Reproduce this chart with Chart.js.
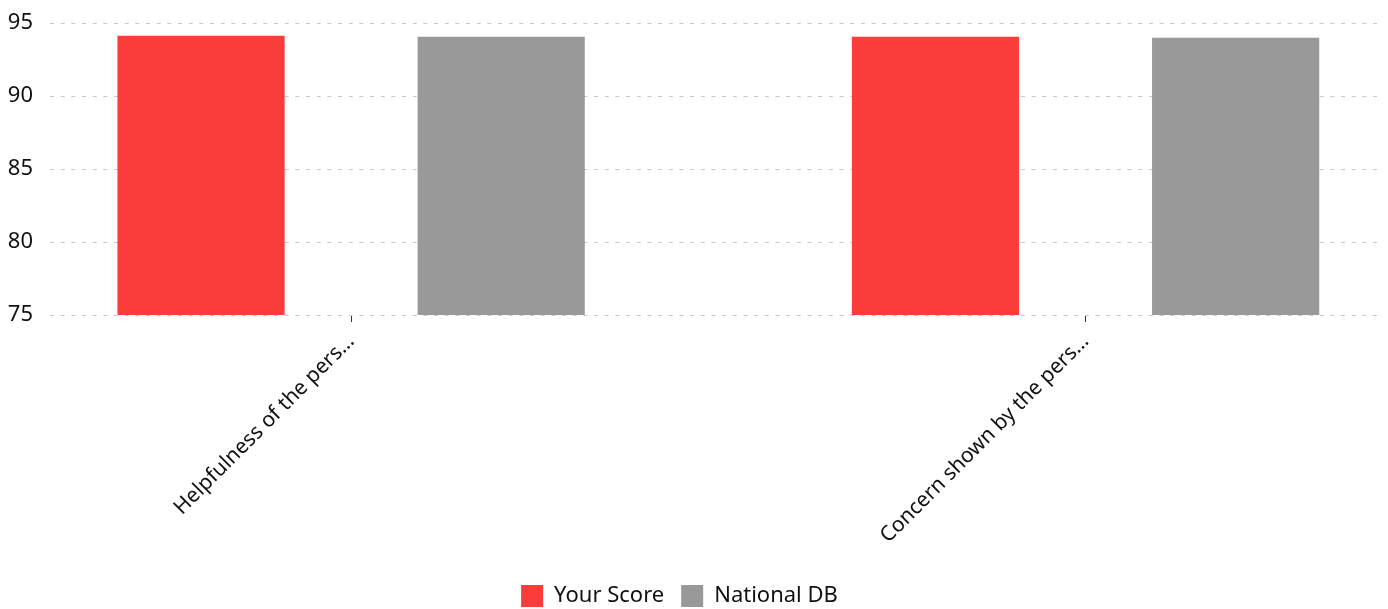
<!DOCTYPE html>
<html>
<head>
<meta charset="utf-8">
<script src="https://cdn.jsdelivr.net/npm/chart.js@4/dist/chart.umd.min.js"></script>
<style>
  html, body { margin: 0; padding: 0; background: #fff; }
  #wrap { width: 1388px; height: 609px; }
</style>
</head>
<body>
<div id="wrap"><canvas id="chart"></canvas></div>
<script>
// カテゴリとデータ
const categories = ['Helpfulness of the pers…', 'Concern shown by the pers…'];
const yourScore = [94.13, 94.06];
const nationalDb = [94.06, 93.99];
const yTicks = [75, 80, 85, 90, 95];

const colors = {
  red: '#fa3c3b',
  gray: '#999999',
  grid: '#c8c8c8',
  text: '#111111'
};

const fontFamily = "'Noto Sans', 'Open Sans', sans-serif";

// x は線形軸 (カテゴリ位置 0, 1)
function toPoints(values) {
  return values.map((v, i) => ({ x: i, y: v }));
}

// 凡例を少し左へ寄せる
const legendShift = {
  id: 'legendShift',
  afterLayout(chart) {
    chart.legend.left -= 16;
    chart.legend.right -= 16;
  }
};

new Chart(document.getElementById('chart'), {
  type: 'bar',
  data: {
    datasets: [
      { label: 'Your Score', data: toPoints(yourScore), backgroundColor: colors.red },
      { label: 'National DB', data: toPoints(nationalDb), backgroundColor: colors.gray }
    ]
  },
  plugins: [legendShift],
  options: {
    responsive: true,
    maintainAspectRatio: false,
    animation: false,
    categoryPercentage: 0.8174,
    barPercentage: 0.557,
    layout: { padding: { top: 23, right: 5, left: 8, bottom: -8 } },
    plugins: {
      tooltip: { enabled: false },
      legend: {
        position: 'bottom',
        labels: {
          boxWidth: 22,
          boxHeight: 22,
          padding: 17,
          color: colors.text,
          font: { family: fontFamily, size: 22 }
        }
      }
    },
    scales: {
      x: {
        type: 'linear',
        offset: false,
        min: -0.41,
        max: 1.405,
        afterBuildTicks: (scale) => {
          scale.ticks = categories.map((c, i) => ({ value: i }));
        },
        afterFit: (scale) => {
          scale.height = 253;
          scale.paddingLeft = 0;
          scale.paddingRight = 0;
        },
        border: { display: false },
        grid: {
          offset: false,
          drawOnChartArea: false,
          drawTicks: true,
          tickLength: 7,
          color: '#333333'
        },
        ticks: {
          minRotation: 45,
          maxRotation: 45,
          autoSkip: false,
          padding: 7,
          color: colors.text,
          font: { family: fontFamily, size: 21 },
          callback: (value) => categories[value]
        }
      },
      y: {
        min: 75,
        max: 95,
        afterBuildTicks: (scale) => {
          scale.ticks = yTicks.map(v => ({ value: v }));
        },
        afterFit: (scale) => {
          scale.width = 42;
          scale.paddingTop = 0;
          scale.paddingBottom = 0;
        },
        border: { display: false, dash: [4, 6.67] },
        grid: { color: colors.grid, drawTicks: false },
        ticks: {
          padding: 17,
          color: colors.text,
          font: { family: fontFamily, size: 22 }
        }
      }
    }
  }
});
</script>
</body>
</html>
